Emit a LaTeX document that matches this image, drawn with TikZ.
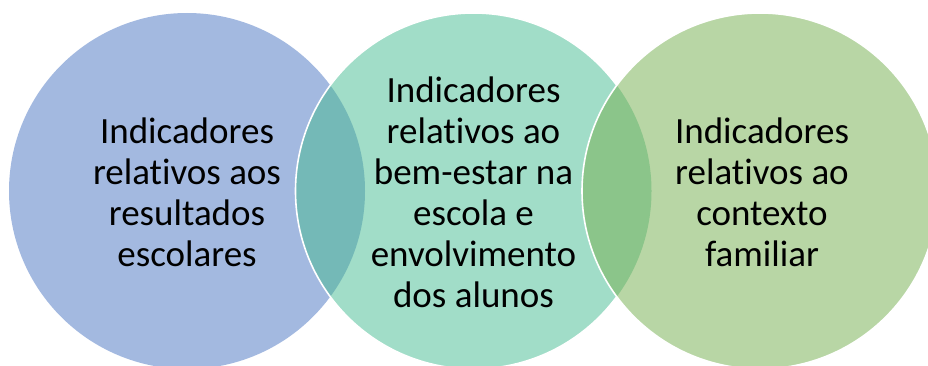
\documentclass[tikz,border=0pt]{standalone}
\usepackage{fontspec}
\setmainfont{Carlito}[RawFeature={-liga;-clig;-calt;-dlig}]
\definecolor{cblue}{HTML}{A3B9E0}
\definecolor{cteal}{HTML}{A1DDC8}
\definecolor{cgreen}{HTML}{B8D6A5}
\definecolor{covA}{HTML}{74B9B7}
\definecolor{covB}{HTML}{8BC58A}
\tikzset{
  lbl/.style={align=center, text=black, font=\fontsize{37pt}{41pt}\selectfont, inner sep=0pt},
  rim/.style={draw=white, line width=1.6pt}
}
\begin{document}
\begin{tikzpicture}[x=1pt,y=1pt]
\useasboundingbox (0,0) rectangle (928,365);
\clip (0,0) rectangle (928,365);
\coordinate (p1) at (187,174);
\coordinate (p2) at (473.5,174);
\coordinate (p3) at (760,174);
\fill[cblue] (p1) circle (178pt);
\fill[cteal] (p2) circle (178pt);
\begin{scope}
  \clip (p1) circle (178pt);
  \fill[covA] (p2) circle (178pt);
\end{scope}
\path[rim] (p2) circle (178pt);
\fill[cgreen] (p3) circle (178pt);
\begin{scope}
  \clip (p2) circle (178pt);
  \fill[covB] (p3) circle (178pt);
\end{scope}
\path[rim] (p3) circle (178pt);
\node[lbl] (t1) at (187,173) {Indicadores\\relativos aos\\resultados\\escolares};
\node[lbl] (t2) at (473.5,173) {Indicadores\\relativos ao\\bem-estar na\\escola e\\envolvimento\\dos alunos};
\node[lbl] (t3) at (762,173) {Indicadores\\relativos ao\\contexto\\familiar};
\end{tikzpicture}
\end{document}
